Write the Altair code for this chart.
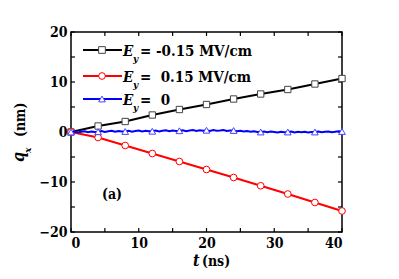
import altair as alt
import pandas as pd

# ---- data ----
marker_t = [0, 4, 8, 12, 16, 20, 24, 28, 32, 36, 40]
neg_field_q = [0, 1.2, 2.1, 3.4, 4.5, 5.5, 6.6, 7.6, 8.5, 9.6, 10.7]      # Ey = -0.15 MV/cm
pos_field_q = [0, -1.1, -2.7, -4.3, -5.9, -7.5, -9.1, -10.75, -12.4, -14.1, -15.8]  # Ey = 0.15 MV/cm
zero_t = [i * 0.5 for i in range(81)]
zero_q = [0.0, 0.1, -0.1, 0.05, 0.15, -0.05, 0.1, 0.0, 0.05, 0.2,
          0.0, 0.15, 0.25, 0.05, 0.2, 0.1, 0.1, 0.25, 0.05, 0.2,
          0.3, 0.1, 0.25, 0.15, 0.15, 0.3, 0.1, 0.25, 0.35, 0.15,
          0.3, 0.2, 0.25, 0.35, 0.15, 0.3, 0.4, 0.2, 0.35, 0.25,
          0.35, 0.2, 0.4, 0.25, 0.3, 0.4, 0.2, 0.3, 0.3, 0.15,
          0.25, 0.1, 0.2, 0.05, 0.15, 0.0, 0.0, 0.1, -0.05, 0.1,
          0.0, -0.1, 0.05, -0.05, 0.0, 0.1, -0.1, 0.05, -0.05, 0.05,
          -0.1, 0.0, 0.0, 0.1, -0.05, 0.05, 0.1, -0.05, 0.05, 0.15, 0.1]
x_ticks = [0, 10, 20, 30, 40]
y_ticks = [-20, -10, 0, 10, 20]
x_minor = [0, 5, 10, 15, 20, 25, 30, 35, 40]
y_minor = [-20, -15, -10, -5, 0, 5, 10, 15, 20]
legend_values = ["= -0.15 MV/cm", "=\u00a0 0.15 MV/cm", "=\u00a0 0"]
panel_label = "(a)"

FONT = "DejaVu Serif Condensed, DejaVu Serif"
W, H = 271, 200

xs = alt.Scale(domain=[0, 40], nice=False)
ys = alt.Scale(domain=[-20, 20], nice=False)

df_black = pd.DataFrame({"t": marker_t, "q": neg_field_q})
df_red = pd.DataFrame({"t": marker_t, "q": pos_field_q})
df_blue = pd.DataFrame({"t": zero_t, "q": zero_q})

X = alt.X("t:Q", scale=xs, axis=alt.Axis(values=x_ticks, title=None))
Y = alt.Y("q:Q", scale=ys, axis=alt.Axis(values=y_ticks, title=None))

layers = []

# inward ticks
dfx = pd.DataFrame({"t": x_minor})
dfy = pd.DataFrame({"q": y_minor})
for y0, y1 in [(H, H - 4), (0, 4)]:
    layers.append(alt.Chart(dfx).mark_rule(color="black", strokeWidth=1.2).encode(
        x=alt.X("t:Q", scale=xs), y=alt.value(y0), y2=alt.value(y1)))
for x0, x1 in [(0, 4), (W, W - 4)]:
    layers.append(alt.Chart(dfy).mark_rule(color="black", strokeWidth=1.2).encode(
        y=alt.Y("q:Q", scale=ys), x=alt.value(x0), x2=alt.value(x1)))

# black series
layers.append(alt.Chart(df_black).mark_line(color="black", strokeWidth=2).encode(x=X, y=Y))
layers.append(alt.Chart(df_black).mark_point(shape="square", size=40, filled=True, fill="white",
                                             stroke="#444444", strokeWidth=1, opacity=1).encode(x=X, y=Y))
# red series
layers.append(alt.Chart(df_red).mark_line(color="#ff0000", strokeWidth=2).encode(x=X, y=Y))
layers.append(alt.Chart(df_red).mark_point(shape="circle", size=45, filled=True, fill="white",
                                           stroke="#ff0000", strokeWidth=1, opacity=1).encode(x=X, y=Y))
# blue series
layers.append(alt.Chart(df_blue).mark_line(color="#0000ff", strokeWidth=2).encode(x=X, y=Y))
layers.append(alt.Chart(df_blue).transform_filter("datum.t % 4 == 0").mark_point(
    shape="triangle-up", size=45, filled=True, fill="white",
    stroke="#4444ff", strokeWidth=1, opacity=1).encode(x=X, y=Y))

one = alt.Data(values=[{"a": 1}])

# legend
leg_colors = ["black", "#ff0000", "#0000ff"]
leg_stroke = ["#444444", "#ff0000", "#4444ff"]
leg_shapes = ["square", "circle", "triangle-up"]
leg_rows = [18, 44, 67]
for i in range(3):
    yy = leg_rows[i]
    layers.append(alt.Chart(one).mark_rule(color=leg_colors[i], strokeWidth=2).encode(
        x=alt.value(12), x2=alt.value(51), y=alt.value(yy)))
    layers.append(alt.Chart(one).mark_point(shape=leg_shapes[i], size=45, filled=True, fill="white",
                                            stroke=leg_stroke[i], strokeWidth=1, opacity=1).encode(
        x=alt.value(31), y=alt.value(yy)))
    layers.append(alt.Chart(one).mark_text(text="E", font=FONT, fontSize=15, fontWeight="bold",
                                           fontStyle="italic", align="left", baseline="alphabetic",
                                           color="black").encode(
        x=alt.value(52), y=alt.value(yy + 6)))
    layers.append(alt.Chart(one).mark_text(text="y", font=FONT, fontSize=10, fontWeight="bold",
                                           fontStyle="italic", align="left", baseline="alphabetic",
                                           color="black").encode(
        x=alt.value(62), y=alt.value(yy + 12)))
    layers.append(alt.Chart(one).mark_text(text=legend_values[i], font=FONT, fontSize=15, fontWeight="bold",
                                           align="left", baseline="alphabetic", color="black").encode(
        x=alt.value(69), y=alt.value(yy + 6)))

# panel label
layers.append(alt.Chart(one).mark_text(text=panel_label, font=FONT, fontSize=14, fontWeight="bold",
                                       align="left", baseline="middle", color="black").encode(
    x=alt.value(31), y=alt.value(163)))

# x title
layers.append(alt.Chart(one).mark_text(text="t", font=FONT, fontSize=16, fontWeight="bold",
                                       fontStyle="italic", align="left", baseline="alphabetic",
                                       color="black").encode(x=alt.value(122), y=alt.value(234)))
layers.append(alt.Chart(one).mark_text(text="(ns)", font=FONT, fontSize=14, fontWeight="bold",
                                       align="left", baseline="alphabetic",
                                       color="black").encode(x=alt.value(131), y=alt.value(234)))
# y title (rotated)
layers.append(alt.Chart(one).mark_text(text="q", font=FONT, fontSize=16, fontWeight="bold",
                                       fontStyle="italic", align="left", baseline="alphabetic", angle=270,
                                       color="black").encode(x=alt.value(-47), y=alt.value(130)))
layers.append(alt.Chart(one).mark_text(text="x", font=FONT, fontSize=10, fontWeight="bold",
                                       fontStyle="italic", align="left", baseline="alphabetic", angle=270,
                                       color="black").encode(x=alt.value(-40), y=alt.value(121)))
layers.append(alt.Chart(one).mark_text(text="(nm)", font=FONT, fontSize=14, fontWeight="bold",
                                       align="left", baseline="alphabetic", angle=270,
                                       color="black").encode(x=alt.value(-46), y=alt.value(105)))

chart = alt.layer(*layers).properties(
    width=W, height=H,
    padding={"left": 63, "top": 24, "right": 49, "bottom": 39},
    autosize=alt.AutoSizeParams(type="none"),
).configure_view(
    stroke="black", strokeWidth=1.5
).configure_axis(
    grid=False, ticks=False, domain=False,
    labelFont=FONT, labelFontSize=14, labelFontWeight="bold", labelColor="black",
    labelPadding=4,
)

chart.save("out.html", embed_options={"renderer": "svg", "actions": False})
